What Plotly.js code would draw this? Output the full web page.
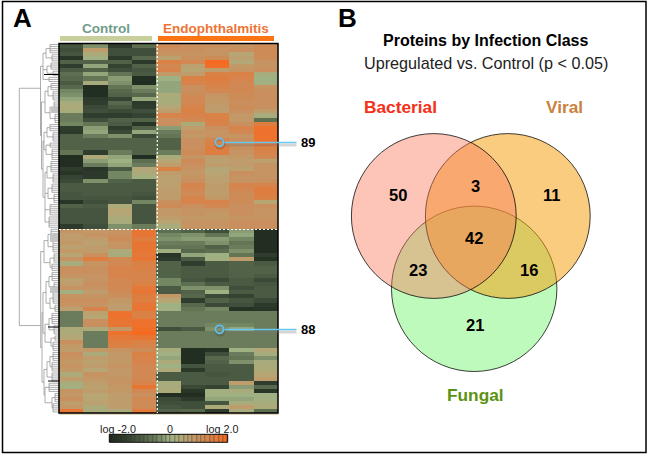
<!DOCTYPE html>
<html><head><meta charset="utf-8">
<script src="https://cdn.plot.ly/plotly-3.0.1.min.js"></script>
<style>html,body{margin:0;padding:0;background:#fff}#c{width:649px;height:455px}</style>
</head><body><div id="c"></div>
<script>
// heatmap values (log2 ratio), top row first
const control1=[-1.1,-1.2,-1.1,-1.7,-0.9,-1.5,-1.0,-0.7,-0.8,-1.0,-0.8,-0.4,-0.3,-0.1,0.2,0.3,0.2,-0.5,-0.5,-0.4,-1.5,-1.6,-0.9,
 -0.9,-0.9,-0.9,-0.6,-1.9,-1.9,-1.9,-1.5,-1.7,-1.4,-1.3,-1.0,-1.0,-1.1,-1.1,-1.7,-0.9,-1.1,-1.1,-1.1,-1.1,-1.6,
 0.9,0.7,0.7,0.8,0.6,0.8,0.5,0.9,0.2,1.0,1.0,0.9,0.6,0.7,0.9,0.1,0.9,1.0,0.9,0.6,-0.5,-0.5,-0.5,-0.5,
 0.3,0.3,0.4,1.0,0.8,0.7,1.0,0.9,0.8,0.9,0.8,0.3,0.7,0.2,0.1,0.9,0.8,1.0,0.7,0.8,1.7];
const control2=[-0.3,0.7,0.3,0.1,-0.9,-0.1,-0.9,-0.1,-0.6,0.2,-1.9,-1.9,-1.9,-1.6,-1.5,-1.3,-1.2,-1.5,-1.2,-0.6,-0.2,-0.1,-0.5,
 -0.9,-0.9,-0.9,-1.5,0.3,-0.2,-0.5,-1.7,-1.6,-1.6,-0.3,-1.0,-1.0,-1.0,-1.1,-1.2,-1.0,-1.1,-1.1,-1.1,-1.1,-1.2,
 0.8,0.9,0.7,0.6,0.7,0.7,1.0,1.5,0.9,1.0,1.0,0.9,0.9,1.0,0.9,0.7,0.9,1.0,0.9,1.3,0.6,0.5,1.0,1.0,
 0.3,-0.5,-0.5,-0.5,-0.5,0.8,0.3,0.7,0.6,0.7,0.5,0.9,0.8,0.7,0.6,0.7,0.5,0.5,0.6,0.3,0.2];
const control3=[-1.5,-1.2,-1.2,-1.6,-0.9,-1.4,-1.2,-0.6,-0.2,-0.3,-0.6,-0.8,-0.9,-1.4,-0.8,-1.0,-1.3,-1.5,-0.9,-1.0,-1.5,-1.3,-0.3,
 -0.9,-0.9,-0.9,-0.5,-0.1,0.0,-0.1,-1.0,-0.4,-0.4,-0.9,-1.0,-1.0,-1.0,-1.1,-1.1,0.3,0.5,0.4,0.3,0.2,-0.3,
 0.9,1.0,1.1,0.9,0.9,0.3,0.2,1.2,1.2,1.3,1.3,1.3,1.2,1.2,1.2,1.1,1.0,0.8,0.7,0.7,1.8,1.8,1.7,1.7,
 0.8,1.8,1.6,1.5,1.4,0.9,0.8,0.8,0.8,0.9,0.8,0.8,0.9,0.9,0.8,0.8,0.7,0.7,0.7,0.7,0.3];
const control4=[-0.7,-1.2,-1.2,-0.8,-1.6,-0.9,-1.1,-1.0,-1.9,-1.9,-0.3,-0.5,-0.8,-0.1,-1.6,-1.5,-1.2,-1.4,-0.9,-1.7,-0.9,-0.1,-1.3,
 -0.9,-0.9,-0.9,-0.9,-1.9,-0.7,-0.5,0.4,0.3,0.1,-1.0,-1.0,-1.0,-1.1,-1.2,-0.4,-1.1,-1.1,-1.1,-1.1,-1.1,-0.5,
 1.7,1.7,1.5,1.7,1.7,1.7,1.6,1.7,1.4,1.4,1.3,1.3,1.3,1.4,1.6,1.7,1.5,1.5,1.7,1.7,1.4,1.4,1.8,1.8,
 1.9,2.0,1.7,1.4,1.3,1.1,1.4,1.3,1.3,1.2,1.2,1.2,1.2,1.3,1.7,1.2,1.0,1.2,1.1,1.1,1.6];
const endo1=[1.1,1.0,0.9,0.6,1.4,1.2,1.3,0.8,0.0,-0.1,-0.1,-0.1,0.3,0.2,0.2,0.4,0.7,1.3,1.0,1.0,-0.2,-0.5,-0.6,
 -0.9,-0.9,-0.9,-0.5,0.2,0.5,0.7,1.4,0.7,0.6,0.6,0.6,0.7,0.7,0.7,1.0,1.1,0.8,0.8,0.7,0.5,0.2,
 -0.7,-0.4,-0.3,-0.5,-0.6,0.1,-1.7,-1.6,-0.9,-0.9,-0.9,-0.9,-0.4,-0.4,-1.0,-1.0,0.8,0.5,0.0,0.1,-0.5,-0.5,-0.5,-0.5,
 -1.2,-0.5,-0.5,-0.5,-0.5,0.2,0.1,-0.1,0.3,0.0,0.3,-1.0,-1.0,0.2,0.2,0.3,-1.9,-1.3,-1.2,-1.1,-0.9];
const endo2=[1.0,1.0,0.9,1.0,1.2,0.6,0.5,0.7,1.4,1.3,1.0,1.0,1.1,1.2,1.2,1.3,1.4,1.3,1.2,0.3,0.7,0.9,0.8,
 1.0,1.0,1.0,1.1,0.9,1.1,1.0,0.9,0.8,0.9,1.0,1.3,1.2,1.1,1.3,1.3,1.0,0.9,0.9,0.8,0.9,0.9,
 -0.9,-0.3,-0.2,-0.5,-0.6,-0.8,-0.1,-1.0,-1.5,-1.0,-1.0,-1.0,-1.1,-0.7,-0.3,-0.9,-0.8,-1.5,-0.8,-0.6,-0.5,-0.5,-0.5,-0.5,
 -1.0,-0.5,-0.5,-0.5,-0.5,-1.9,-1.9,-1.9,-1.9,-1.1,-1.6,-1.0,-1.0,-1.0,-1.3,-1.7,-1.9,-1.6,-1.2,-1.2,-0.8];
const endo3=[1.0,0.9,0.9,1.1,2.0,1.9,0.7,1.4,1.5,1.4,1.3,1.2,0.9,0.8,0.8,0.7,0.7,1.4,1.4,1.3,1.0,0.9,0.9,
 1.3,1.4,1.5,1.5,0.7,0.6,0.7,0.4,0.5,0.6,0.6,0.7,0.7,0.7,0.8,1.3,1.2,0.9,0.8,0.8,0.9,0.9,
 -1.2,-0.6,-0.2,-0.3,-0.9,-0.7,0.0,0.1,-1.0,-1.0,-1.0,-1.0,-1.3,-1.0,-0.3,0.0,-1.3,-0.9,-1.3,-0.4,-0.5,-0.5,-0.5,-0.4,
 -0.3,-0.5,-0.5,-0.5,-0.5,-1.8,-1.2,-0.8,-0.9,-1.0,-1.0,-1.1,-1.0,-1.0,-1.4,0.1,0.1,-0.1,-1.1,0.3,-1.5];
const endo4=[0.9,1.0,0.5,0.6,0.4,0.8,0.9,1.4,1.3,1.2,1.2,1.2,1.1,1.1,1.0,1.1,1.0,0.8,0.8,1.0,1.3,1.2,0.9,
 1.0,1.1,1.0,0.9,0.8,0.7,0.7,0.6,1.0,0.9,0.9,1.3,1.2,1.1,1.1,1.1,1.0,1.0,1.0,0.9,1.0,1.0,
 -0.2,-0.1,-0.4,-0.6,-0.5,-0.3,-0.6,0.7,-0.9,-0.9,-0.9,-0.9,-1.0,-1.0,-1.2,-1.0,-1.4,-1.1,-1.2,-1.8,-0.5,-0.5,-0.5,-0.4,
 -0.1,-0.5,-0.5,-0.5,-0.5,0.0,-0.5,-0.6,-0.3,-1.0,-1.0,-1.0,-1.0,0.7,-0.2,0.2,0.0,-0.1,0.2,0.7,0.2];
const endo5=[1.1,1.1,1.1,1.1,0.9,0.9,1.0,0.2,0.0,0.1,0.9,1.0,1.0,1.0,1.0,1.0,0.7,0.2,-0.7,1.5,1.8,1.8,1.8,
 1.8,1.7,1.4,1.3,1.2,0.6,0.9,0.9,0.9,0.9,1.0,1.3,1.5,1.5,1.4,0.5,1.0,0.9,0.9,0.9,1.0,1.0,
 -1.9,-1.9,-1.9,-1.9,-1.9,-1.9,-1.5,-1.8,-1.0,-0.9,-0.9,-1.0,-1.3,-1.1,-1.0,-1.0,-1.0,-1.3,-1.6,-1.7,-0.5,-0.5,-0.5,-0.5,
 -0.5,-0.5,-0.5,-0.5,-0.5,0.4,0.2,-0.3,0.2,0.3,0.3,0.5,0.7,-1.5,-0.8,-1.7,0.0,0.1,0.2,0.3,-0.7];
const keyValues=[-2,-1.85,-1.7,-1.55,-1.4,-1.25,-1.1,-0.95,-0.8,-0.65,-0.5,-0.35,-0.2,-0.05,0.1,0.25,0.4,0.55,0.7,0.85,1,1.15,1.3,1.45,1.6,1.8,2];
const keyLabels=["log -2.0","0","log 2.0"];
const groups=["Control","Endophthalmitis"];
const clusterSizes=["89","88"];
const vennSets=["Bacterial","Viral","Fungal"];
const vennCounts=[50,3,11,42,23,16,21];
const panelTitle="Proteins by Infection Class";
const panelSub="Upregulated vs. Control (p < 0.05)";
// clustering tree: [merge depth, children...]; an integer child is a fan of that many leaves
const upperTree=[40.5,
 [43,[46,[50,5],[52,4]],[47,[51,4],[53,3]],[49,3]],
 [41.5,
  [45,[48,[51,4],[53,5]],[50,[54,6],[55,5]]],
  [43,[44,[47,[50,4],[53,5]],[46,[50,3],[52,6]]],
      [45,[47,[51,6],[53,5]],[48,[52,5],[54,5]],[50,6],[49,6]]]]];
const lowerTree=[40.7,
 [44,[48,[51,6],[53,6]],[50,[54,5],[52,4]]],
 [42,[43,[46,[49,[52,5],[54,5]],[50,[53,6],[55,4]]],[45,[49,[52,6],[54,5]],[51,[55,3],[53,5]]]],
     [44,[47,[50,[53,5],[52,5]],[52,5]],[45,[49,5],[52,[55,5],[53,5]]]]]];
const rootDepth=19.3;
const rootRows=[10.4,68.2];

const W=649,H=455,X=p=>p/W,Y=p=>1-p/H;
const cols=[control1,control2,control3,control4,endo1,endo2,endo3,endo4,endo5];
const z=control1.map((_,r)=>cols.map(c=>c[r]));
const scale=[[0,'#1e2a1e'],[0.12,'#2f3c2d'],[0.25,'#4b5b43'],[0.375,'#6a7c5b'],[0.5,'#9db183'],[0.625,'#b8a574'],[0.75,'#c98f5e'],[0.875,'#de7d40'],[1,'#f56a20']];

// dendrogram segments
const dx=[],dy=[];
const seg=(a,b,c,d)=>{dx.push(a,c,null);dy.push(b,d,null);};
let leaf=0;
function walk(n){
  const x=n[0],pts=[];
  for(const ch of n.slice(1)){
    if(typeof ch==='number'){
      for(let i=0;i<ch;i++){const yy=leaf*0.5-0.25;leaf++;pts.push([59,yy]);}
    }else{pts.push(walk(ch));}
  }
  const ys=pts.map(p=>p[1]);
  const y0=Math.min(...ys),y1=Math.max(...ys);
  seg(x,y0,x,y1);
  pts.forEach(p=>seg(x,p[1],p[0],p[1]));
  return [x,(pts[0][1]+pts[pts.length-1][1])/2];
}
const uRoot=walk(upperTree),lRoot=walk(lowerTree);
seg(rootDepth,rootRows[0],rootDepth,rootRows[1]);
seg(rootDepth,rootRows[0],uRoot[0],rootRows[0]);
seg(rootDepth,rootRows[1],lRoot[0],rootRows[1]);

const traces=[
 {type:'heatmap',z:z,x:cols.map((_,i)=>i),y:z.map((_,i)=>i),xaxis:'x',yaxis:'y',zmin:-2,zmax:2,colorscale:scale,showscale:false,hoverinfo:'skip'},
 {type:'scatter',mode:'lines',x:dx,y:dy,xaxis:'x2',yaxis:'y',line:{color:'#8a8a8a',width:0.7},hoverinfo:'skip',showlegend:false,cliponaxis:false},
 {type:'heatmap',z:[keyValues],x:keyValues.map((_,i)=>i),y:[0],xaxis:'x3',yaxis:'y3',zmin:-2,zmax:2,colorscale:scale,showscale:false,xgap:0.5,hoverinfo:'skip'}
];

const rect=(x0,y0,x1,y1,o)=>Object.assign({type:'rect',xref:'paper',yref:'paper',x0:X(x0),x1:X(x1),y0:Y(y0),y1:Y(y1),line:{width:0}},o);
const line=(x0,y0,x1,y1,color,width,dash,layer)=>({type:'line',xref:'paper',yref:'paper',x0:X(x0),x1:X(x1),y0:Y(y0),y1:Y(y1),line:{color,width,dash:dash||'solid'},layer:layer||'above'});
const circle=(cx,cy,r,fill,col,w)=>({type:'circle',xref:'paper',yref:'paper',x0:X(cx-r),x1:X(cx+r),y0:Y(cy+r),y1:Y(cy-r),fillcolor:fill,line:{color:col,width:w}});

const shapes=[
 rect(2.5,1.5,646,452.5,{line:{color:'#000',width:1.5},fillcolor:'rgba(0,0,0,0)',layer:'below'}),
 rect(109.3,434.3,227.7,442.3,{fillcolor:'#3a3a34',layer:'below'}),
 rect(60,36,152,41,{fillcolor:'#c8cf9a'}),
 rect(158,36,274,41,{fillcolor:'#fb7414'}),
 rect(51,107,59,113,{fillcolor:'#c4c4c4',layer:'above'}),
 rect(50,233,59,242,{fillcolor:'#c4c4c4',layer:'above'}),
 rect(50,287,59,293,{fillcolor:'#c4c4c4',layer:'above'}),
 line(44,74.5,59,74.5,'#000',1),
 line(48,327,59,327,'#000',1),
 line(48,381,59,381,'#000',1),
 line(59,414,278,414,'#c2b27e',1),
 rect(59,43.5,278,413,{line:{color:'#000',width:1.5},fillcolor:'rgba(0,0,0,0)'}),
 line(157.3,44,157.3,413,'#fff',1.2,'2px,2px'),
 line(59,229.5,278,229.5,'#fff',1.2,'2px,2px'),
 // callouts
 line(224,145,296.5,145,'rgba(120,120,120,0.3)',3),
 line(224,332,296.5,332,'rgba(120,120,120,0.3)',3),
 line(223,142.5,296.5,142.5,'#66c8f0',1.3),
 line(223,329.5,296.5,329.5,'#66c8f0',1.3),
 circle(220,144,4.5,'rgba(0,0,0,0)','rgba(60,60,60,0.25)',2),
 circle(220,331,4.5,'rgba(0,0,0,0)','rgba(60,60,60,0.25)',2),
 circle(219.5,142.3,4,'rgba(0,0,0,0)','#62c0ea',1.8),
 circle(219.5,329.3,4,'rgba(0,0,0,0)','#62c0ea',1.8),
 // colour key frame
 rect(109.3,434.3,227.7,442.3,{line:{color:'#111',width:1},fillcolor:'rgba(0,0,0,0)'}),
 // venn
 circle(474.2,288.8,82.7,'#bffabd','rgba(0,0,0,0.75)',1),
 circle(507.8,216,82.4,'rgba(243,158,15,0.53)','rgba(0,0,0,0.75)',1),
 circle(433.8,216,82.4,'rgba(248,120,90,0.43)','rgba(0,0,0,0.75)',1)
];
const F="'Liberation Sans',Arial,sans-serif";
const txt=(t,x,y,size,color,bold)=>({text:bold?'<b>'+t+'</b>':t,x:X(x),y:Y(y),xref:'paper',yref:'paper',xanchor:'center',yanchor:'middle',showarrow:false,font:{family:F,size,color}});
const vennPos=[[398,195],[475,186],[551,195],[474,238],[417.5,270],[529,270],[475,325]];
const annotations=[
 txt('A',22,18.5,26,'#000',true),
 txt('B',347.5,18,26,'#000',true),
 txt(groups[0],106,28,13.5,'#6f9c88',true),
 txt(groups[1],216,28,13.5,'#ee7434',true),
 txt(clusterSizes[0],308.3,142.5,13,'#000',true),
 txt(clusterSizes[1],308.3,329.5,13,'#000',true),
 txt(keyLabels[0],118,428.5,10.8,'#222',false),
 txt(keyLabels[1],170,428.5,10.8,'#222',false),
 txt(keyLabels[2],222.3,428.5,10.8,'#222',false),
 txt(panelTitle,485.7,40.5,16,'#000',true),
 txt(panelSub,486,63,16.2,'#222',false),
 txt(vennSets[0],400,107,17.3,'#f5301a',true),
 txt(vennSets[1],564,107,17.3,'#c98340',true),
 txt(vennSets[2],475.7,395,17.3,'#5c9212',true)
].concat(vennCounts.map((v,i)=>txt(String(v),vennPos[i][0],vennPos[i][1],16.5,'#000',true)));

const hid={visible:false,fixedrange:true};
const layout={width:W,height:H,margin:{l:0,r:0,t:0,b:0,pad:0},paper_bgcolor:'#fff',plot_bgcolor:'rgba(0,0,0,0)',showlegend:false,
 xaxis:Object.assign({},hid,{domain:[X(59),X(278)],range:[-0.5,8.5],anchor:'y'}),
 yaxis:Object.assign({},hid,{domain:[Y(413),Y(43.5)],range:[89.5,-0.5],anchor:'x'}),
 xaxis2:Object.assign({},hid,{domain:[0,1],range:[0,W],anchor:'y'}),
 xaxis3:Object.assign({},hid,{domain:[X(109.3),X(227.7)],range:[-0.5,26.5],anchor:'y3'}),
 yaxis3:Object.assign({},hid,{domain:[Y(442.3),Y(434.3)],range:[-0.5,0.5],anchor:'x3'}),
 shapes,annotations};
Plotly.newPlot('c',traces,layout,{displayModeBar:false,staticPlot:true});
</script></body></html>
